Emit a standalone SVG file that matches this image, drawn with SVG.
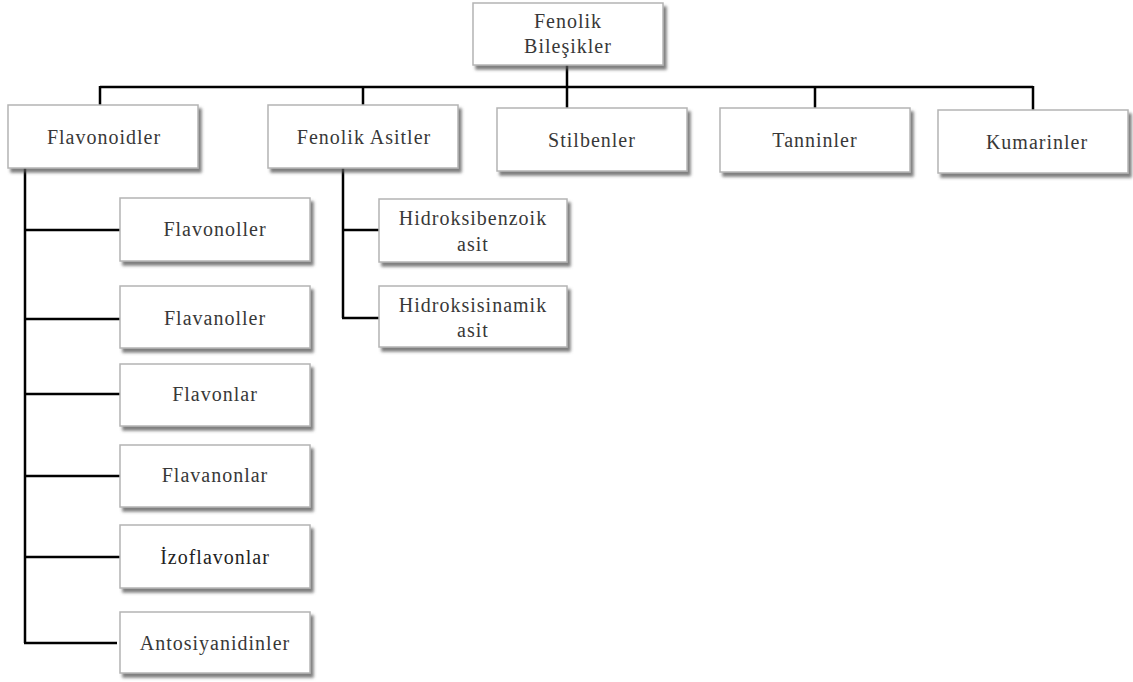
<svg xmlns="http://www.w3.org/2000/svg" width="1133" height="682" viewBox="0 0 1133 682">
<defs>
<filter id="sh" x="-10%" y="-20%" width="125%" height="150%">
<feDropShadow dx="3" dy="4" stdDeviation="1.6" flood-color="#555" flood-opacity="0.75"/>
</filter>
</defs>
<style>
.box{fill:#fff;stroke:#b4b4b4;stroke-width:1.5;filter:url(#sh)}
.t{font-family:"Liberation Serif","Times New Roman",serif;font-size:20px;letter-spacing:1px;fill:#383838;text-anchor:middle}
.ln{stroke:#000;stroke-width:2.5;fill:none}
</style>
<rect width="1133" height="682" fill="#fff"/>
<g id="connectors">
<path class="ln" d="M567 65V87M100 87H1033M100 86V105M363 86V105M567 86V108M815 86V108M1033 86V110"/>
<path class="ln" d="M25 168V643M24 230H120M24 319H120M24 394H120M24 476H120M24 557H120M24 643H117"/>
<path class="ln" d="M343 168V318M342 230H379M342 318H379"/>
</g>
<g id="n-fenolik-bilesikler"><rect class="box" x="473" y="3" width="190" height="62"/><text class="t" x="568" y="28">Fenolik</text><text class="t" x="568" y="53">Bileşikler</text></g>
<g id="n-flavonoidler"><rect class="box" x="8" y="105" width="190" height="63"/><text class="t" x="104" y="144">Flavonoidler</text></g>
<g id="n-fenolik-asitler"><rect class="box" x="268" y="105" width="190" height="63"/><text class="t" x="364" y="144">Fenolik Asitler</text></g>
<g id="n-stilbenler"><rect class="box" x="497" y="108" width="190" height="63"/><text class="t" x="592" y="147">Stilbenler</text></g>
<g id="n-tanninler"><rect class="box" x="720" y="108" width="190" height="64"/><text class="t" x="815" y="147">Tanninler</text></g>
<g id="n-kumarinler"><rect class="box" x="938" y="110" width="190" height="63"/><text class="t" x="1037" y="149">Kumarinler</text></g>
<g id="n-flavonoller"><rect class="box" x="120" y="198" width="190" height="63"/><text class="t" x="215" y="236">Flavonoller</text></g>
<g id="n-flavanoller"><rect class="box" x="120" y="286" width="190" height="62"/><text class="t" x="215" y="325">Flavanoller</text></g>
<g id="n-flavonlar"><rect class="box" x="120" y="364" width="190" height="62"/><text class="t" x="215" y="401">Flavonlar</text></g>
<g id="n-flavanonlar"><rect class="box" x="120" y="445" width="190" height="62"/><text class="t" x="215" y="482">Flavanonlar</text></g>
<g id="n-izoflavonlar"><rect class="box" x="120" y="525" width="190" height="63"/><text class="t" x="215" y="564" style="fill:#222">İzoflavonlar</text></g>
<g id="n-antosiyanidinler"><rect class="box" x="120" y="612" width="190" height="61"/><text class="t" x="215" y="650">Antosiyanidinler</text></g>
<g id="n-hidroksibenzoik"><rect class="box" x="379" y="199" width="188" height="63"/><text class="t" x="473" y="225">Hidroksibenzoik</text><text class="t" x="473" y="251">asit</text></g>
<g id="n-hidroksisinamik"><rect class="box" x="379" y="286" width="188" height="61"/><text class="t" x="473" y="312">Hidroksisinamik</text><text class="t" x="473" y="337">asit</text></g>
</svg>
